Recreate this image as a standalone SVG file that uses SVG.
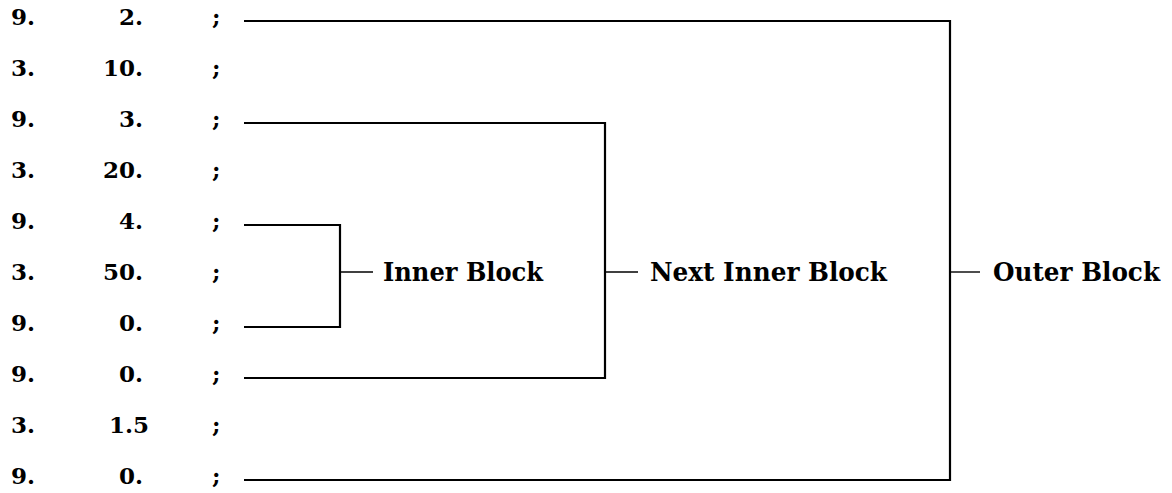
<svg xmlns="http://www.w3.org/2000/svg" width="1172" height="493" viewBox="0 0 1172 493">
<style>
  .t { font-family: "DejaVu Serif", "Liberation Serif", serif; font-weight: bold; font-size: 23px; fill: #000; }
  .lbl { font-family: "DejaVu Serif", "Liberation Serif", serif; font-weight: bold; font-size: 26px; fill: #000; }
  .r { text-anchor: end; }
  .br { fill: none; stroke: #000; stroke-width: 2.2; }
  .tick { fill: none; stroke: #000; stroke-width: 1.4; }
</style>
<rect width="1172" height="493" fill="#fff"/>
<g id="rows">
  <g id="row1"><text class="t" x="11" y="25">9.</text><text class="t r" x="143" y="25">2.</text><text class="t" x="212" y="25">;</text></g>
  <g id="row2"><text class="t" x="11" y="76">3.</text><text class="t r" x="143" y="76">10.</text><text class="t" x="212" y="76">;</text></g>
  <g id="row3"><text class="t" x="11" y="127">9.</text><text class="t r" x="143" y="127">3.</text><text class="t" x="212" y="127">;</text></g>
  <g id="row4"><text class="t" x="11" y="178">3.</text><text class="t r" x="143" y="178">20.</text><text class="t" x="212" y="178">;</text></g>
  <g id="row5"><text class="t" x="11" y="229">9.</text><text class="t r" x="143" y="229">4.</text><text class="t" x="212" y="229">;</text></g>
  <g id="row6"><text class="t" x="11" y="280">3.</text><text class="t r" x="143" y="280">50.</text><text class="t" x="212" y="280">;</text></g>
  <g id="row7"><text class="t" x="11" y="331">9.</text><text class="t r" x="143" y="331">0.</text><text class="t" x="212" y="331">;</text></g>
  <g id="row8"><text class="t" x="11" y="382">9.</text><text class="t r" x="143" y="382">0.</text><text class="t" x="212" y="382">;</text></g>
  <g id="row9"><text class="t" x="11" y="433">3.</text><text class="t" x="109" y="433">1.5</text><text class="t" x="212" y="433">;</text></g>
  <g id="row10"><text class="t" x="11" y="484">9.</text><text class="t r" x="143" y="484">0.</text><text class="t" x="212" y="484">;</text></g>
</g>
<g id="connectors">
  <polyline class="br" points="244,225 340,225 340,327 244,327"/>
  <polyline class="br" points="244,123 605,123 605,378 244,378"/>
  <polyline class="br" points="244,21 950,21 950,480 244,480"/>
  <line class="tick" x1="340" y1="272" x2="373" y2="272"/>
  <line class="tick" x1="605" y1="272" x2="638" y2="272"/>
  <line class="tick" x1="950" y1="272" x2="980" y2="272"/>
</g>
<g id="inner-block"><text class="lbl" x="383" y="281" textLength="160" lengthAdjust="spacingAndGlyphs">Inner Block</text></g>
<g id="next-inner-block"><text class="lbl" x="650" y="281" textLength="237" lengthAdjust="spacingAndGlyphs">Next Inner Block</text></g>
<g id="outer-block"><text class="lbl" x="993" y="281" textLength="167" lengthAdjust="spacingAndGlyphs">Outer Block</text></g>
</svg>
